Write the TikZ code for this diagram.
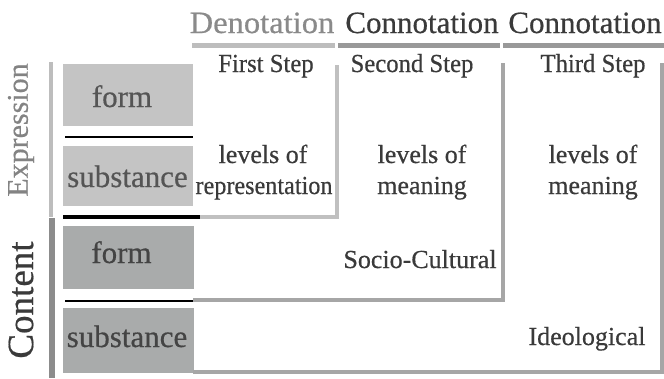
\documentclass[tikz,border=0pt]{standalone}
\usepackage{fontspec}
\setmainfont{Liberation Serif}[FakeBold=0.5]
\begin{document}
\begin{tikzpicture}[x=1pt,y=-1pt,
  lbl/.style={inner sep=0pt,anchor=base,text=txtdark},
  body/.style={lbl,font=\fontsize{26}{28}\selectfont},
  hdr/.style={lbl,font=\fontsize{31}{33}\selectfont},
  boxtxt/.style={lbl,font=\fontsize{31}{33}\selectfont},
  frameA/.style={draw=frameLight,line width=4pt},
  frameB/.style={draw=frameMid,line width=4pt},
  sep/.style={draw=black,line width=2.5pt}]
\definecolor{txtdark}{HTML}{3A3A3A}
\definecolor{txtbox}{HTML}{555555}
\definecolor{txtlight}{HTML}{8A8A8A}
\definecolor{exprfill}{HTML}{C4C4C4}
\definecolor{contfill}{HTML}{A9ABAB}
\definecolor{frameLight}{HTML}{C0C0C0}
\definecolor{frameMid}{HTML}{A6A6A6}
\definecolor{barLight}{HTML}{BDBDBD}
\definecolor{barDark}{HTML}{999999}
\definecolor{sideLight}{HTML}{BDBDBD}
\definecolor{sideDark}{HTML}{8C8C8C}
\useasboundingbox (0,0) rectangle (664,378);

% header bars
\draw[barLight,line width=5pt] (192,45.5) -- (335,45.5);
\draw[barDark,line width=5pt] (338,45.5) -- (500,45.5);
\draw[barDark,line width=5pt] (503,45.5) -- (664,45.5);

% headers
\node[hdr,text=txtlight] (den) at (262,33) {\scalebox{1.05}[1]{Denotation}};
\node[hdr] (con1) at (422,33) {Connotation};
\node[hdr] (con2) at (585,33) {Connotation};

% step labels
\node[body] (s1) at (266,72) {\scalebox{0.95}[1]{First Step}};
\node[body] (s2) at (412,72) {\scalebox{0.95}[1]{Second Step}};
\node[body] (s3) at (593,72) {\scalebox{0.95}[1]{Third Step}};

% side bars
\draw[sideLight,line width=4pt] (51,62) -- (51,217);
\draw[sideDark,line width=6pt] (51.5,218) -- (51.5,378);
\node[lbl,text=txtlight!95!black,anchor=center,rotate=90,font=\fontsize{30}{32}\selectfont] (expr) at (21,130) {Expression};
\node[lbl,anchor=center,rotate=90,font=\fontsize{37}{39}\selectfont] (cont) at (21,300) {Content};

% boxes
\fill[exprfill] (63,64) rectangle (193,126);
\fill[exprfill] (63,146) rectangle (193,206);
\fill[contfill] (63,226) rectangle (194,289);
\fill[contfill] (63,308) rectangle (194,373);

% separators
\draw[sep] (65,137) -- (193,137);
\draw[draw=black,line width=4pt] (63,217) -- (200,217);
\draw[sep] (65,301) -- (193,301);

% frames
\coordinate (a1) at (337,65);
\coordinate (a2) at (337,217);
\coordinate (a3) at (200,217);
\coordinate (b1) at (503,63);
\coordinate (b2) at (503,300);
\coordinate (b3) at (193,300);
\coordinate (c1) at (662,63);
\coordinate (c2) at (662,372);
\coordinate (c3) at (193,372);
\draw[frameA] (a1) -- (a2) -- (a3);
\draw[frameB] (b1) -- (b2) -- (b3);
\draw[frameB] (c1) -- (c2) -- (c3);

% box labels
\node[boxtxt,text=txtbox] (f1) at (122,107) {form};
\node[boxtxt,text=txtbox] (sb1) at (127.5,187) {substance};
\node[boxtxt,text=txtbox!80!black] (f2) at (121.5,263) {form};
\node[boxtxt,text=txtbox!80!black] (sb2) at (127,347) {substance};

% body texts
\node[body] (l1) at (263,163) {levels of};
\node[body] (r1) at (264,194) {\scalebox{0.93}[1]{representation}};
\node[body] (l2) at (422,163) {levels of};
\node[body] (m2) at (422,194) {meaning};
\node[body] (l3) at (593,163) {levels of};
\node[body] (m3) at (593,194) {meaning};
\node[body] (sc) at (420,268) {Socio-Cultural};
\node[body] (id) at (587,345) {Ideological};
\end{tikzpicture}
\end{document}
